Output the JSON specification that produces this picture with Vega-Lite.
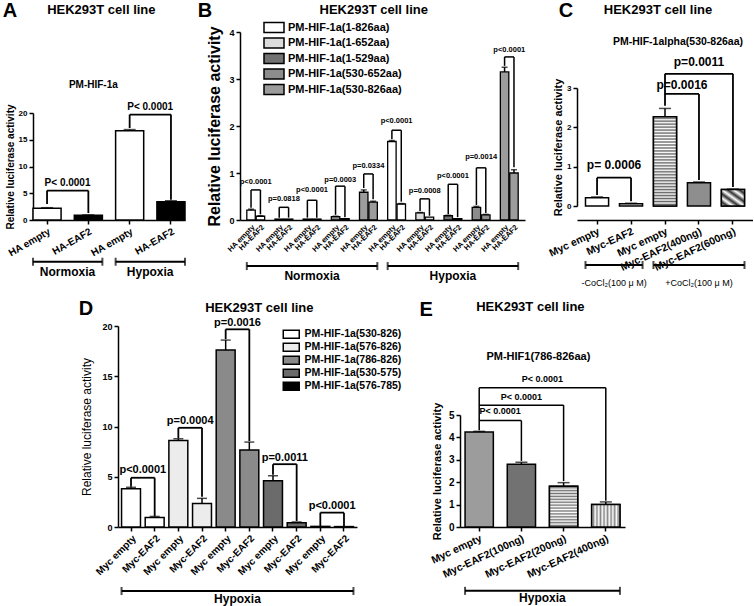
{
"$schema":"https://vega.github.io/schema/vega-lite/v6.json",
"padding":{"left":2,"top":0,"right":0,"bottom":0},
"config":{
 "view":{"stroke":null},
 "font":"Liberation Sans",
 "axis":{"grid":false,"domainColor":"black","domainWidth":1.5,"tickColor":"black","tickWidth":1.5,"tickSize":4,"labelColor":"black","titleColor":"black","labelFontWeight":"bold","titleFontWeight":"bold","labelFont":"Liberation Sans","titleFont":"Liberation Sans","labelOverlap":false},
 "text":{"font":"Liberation Sans","fontWeight":"bold","color":"black","fill":"black"},
 "rule":{"color":"black","strokeWidth":1.5},
 "tick":{"color":"black","thickness":1.5},
 "legend":{"labelFont":"Liberation Sans","labelFontWeight":"bold","labelColor":"black","symbolStrokeColor":"black","symbolStrokeWidth":1.5,"padding":0}
},
"datasets":{
 "aBars":[{"id":"HA empty|N","cond":"e","v":2.2,"hi":2.3},{"id":"HA-EAF2|N","cond":"f","v":0.9,"hi":0.95},{"id":"HA empty|H","cond":"e","v":16.7,"hi":16.9},{"id":"HA-EAF2|H","cond":"f","v":3.4,"hi":3.6}],
 "aSeg":[{"x1":"HA empty|N","x2":"HA-EAF2|N","y1":5.5,"y2":5.5},{"x1":"HA empty|N","x2":"HA empty|N","y1":3.0,"y2":5.5},{"x1":"HA-EAF2|N","x2":"HA-EAF2|N","y1":1.3,"y2":5.5},{"x1":"HA empty|H","x2":"HA-EAF2|H","y1":19.7,"y2":19.7},{"x1":"HA empty|H","x2":"HA empty|H","y1":17.2,"y2":19.7},{"x1":"HA-EAF2|H","x2":"HA-EAF2|H","y1":3.8,"y2":19.7}],
 "aP":[{"x":"HA empty|N","y":7.0,"t":"P< 0.0001"},{"x":"HA empty|H","y":21.2,"t":"P< 0.0001"}],
 "aG":[{"a":"HA empty|N","b":"HA-EAF2|N","y":-7.8,"ty":-9.7,"t":"Normoxia"},{"a":"HA empty|H","b":"HA-EAF2|H","y":-7.8,"ty":-9.7,"t":"Hypoxia"}],
 "bBars":[{"id":"1e","s":"PM-HIF-1a(1-826aa)","v":0.21,"hi":0.23},{"id":"1f","s":"PM-HIF-1a(1-826aa)","v":0.08,"hi":0.09},{"id":"2e","s":"PM-HIF-1a(1-652aa)","v":0.02,"hi":0.02},{"id":"2f","s":"PM-HIF-1a(1-652aa)","v":0.02,"hi":0.02},{"id":"3e","s":"PM-HIF-1a(1-529aa)","v":0.02,"hi":0.02},{"id":"3f","s":"PM-HIF-1a(1-529aa)","v":0.02,"hi":0.02},{"id":"4e","s":"PM-HIF-1a(530-652aa)","v":0.07,"hi":0.08},{"id":"4f","s":"PM-HIF-1a(530-652aa)","v":0.03,"hi":0.03},{"id":"5e","s":"PM-HIF-1a(530-826aa)","v":0.59,"hi":0.64},{"id":"5f","s":"PM-HIF-1a(530-826aa)","v":0.38,"hi":0.40},{"id":"6e","s":"PM-HIF-1a(1-826aa)","v":1.67,"hi":1.69},{"id":"6f","s":"PM-HIF-1a(1-826aa)","v":0.34,"hi":0.35},{"id":"7e","s":"PM-HIF-1a(1-652aa)","v":0.15,"hi":0.16},{"id":"7f","s":"PM-HIF-1a(1-652aa)","v":0.06,"hi":0.06},{"id":"8e","s":"PM-HIF-1a(1-529aa)","v":0.09,"hi":0.10},{"id":"8f","s":"PM-HIF-1a(1-529aa)","v":0.03,"hi":0.03},{"id":"9e","s":"PM-HIF-1a(530-652aa)","v":0.27,"hi":0.29},{"id":"9f","s":"PM-HIF-1a(530-652aa)","v":0.11,"hi":0.12},{"id":"10e","s":"PM-HIF-1a(530-826aa)","v":3.15,"hi":3.25},{"id":"10f","s":"PM-HIF-1a(530-826aa)","v":1.0,"hi":1.07}],
 "bSeg":[
  {"x1":"1e","x2":"1f","y1":0.64,"y2":0.64},{"x1":"1e","x2":"1e","y1":0.26,"y2":0.64},{"x1":"1f","x2":"1f","y1":0.12,"y2":0.64},
  {"x1":"2e","x2":"2f","y1":0.27,"y2":0.27},{"x1":"2e","x2":"2e","y1":0.05,"y2":0.27},{"x1":"2f","x2":"2f","y1":0.05,"y2":0.27},
  {"x1":"3e","x2":"3f","y1":0.42,"y2":0.42},{"x1":"3e","x2":"3e","y1":0.05,"y2":0.42},{"x1":"3f","x2":"3f","y1":0.05,"y2":0.42},
  {"x1":"4e","x2":"4f","y1":0.72,"y2":0.72},{"x1":"4e","x2":"4e","y1":0.11,"y2":0.72},{"x1":"4f","x2":"4f","y1":0.06,"y2":0.72},
  {"x1":"5e","x2":"5f","y1":0.98,"y2":0.98},{"x1":"5e","x2":"5e","y1":0.68,"y2":0.98},{"x1":"5f","x2":"5f","y1":0.44,"y2":0.98},
  {"x1":"6e","x2":"6f","y1":1.91,"y2":1.91},{"x1":"6e","x2":"6e","y1":1.72,"y2":1.91},{"x1":"6f","x2":"6f","y1":0.39,"y2":1.91},
  {"x1":"7e","x2":"7f","y1":0.45,"y2":0.45},{"x1":"7e","x2":"7e","y1":0.19,"y2":0.45},{"x1":"7f","x2":"7f","y1":0.09,"y2":0.45},
  {"x1":"8e","x2":"8f","y1":0.76,"y2":0.76},{"x1":"8e","x2":"8e","y1":0.12,"y2":0.76},{"x1":"8f","x2":"8f","y1":0.06,"y2":0.76},
  {"x1":"9e","x2":"9f","y1":1.11,"y2":1.11},{"x1":"9e","x2":"9e","y1":0.32,"y2":1.11},{"x1":"9f","x2":"9f","y1":0.15,"y2":1.11},
  {"x1":"10e","x2":"10f","y1":3.47,"y2":3.47},{"x1":"10e","x2":"10e","y1":3.28,"y2":3.47},{"x1":"10f","x2":"10f","y1":1.12,"y2":3.47}],
 "bP":[{"x":"1e","y":0.81,"t":"p<0.0001"},{"x":"2e","y":0.45,"t":"p=0.0818"},{"x":"3e","y":0.63,"t":"p<0.0001"},{"x":"4e","y":0.86,"t":"p=0.0003"},{"x":"5e","y":1.15,"t":"p=0.0334"},{"x":"6e","y":2.1,"t":"p<0.0001"},{"x":"7e","y":0.61,"t":"p=0.0008"},{"x":"8e","y":0.93,"t":"p<0.0001"},{"x":"9e","y":1.35,"t":"p=0.0014"},{"x":"10e","y":3.62,"t":"p<0.0001"}],
 "bG":[{"a":"1e","b":"5f","y":-0.98,"tx":"3e","ty":-1.2,"t":"Normoxia"},{"a":"6e","b":"10f","y":-0.98,"tx":"8e","ty":-1.2,"t":"Hypoxia"}],
 "cBars":[{"id":"Myc empty|-","k":"c1","v":0.21,"hi":0.23},{"id":"Myc-EAF2|-","k":"c2","v":0.06,"hi":0.07},{"id":"Myc empty|+","k":"c3","v":2.27,"hi":2.48},{"id":"Myc-EAF2(400ng)|+","k":"c4","v":0.59,"hi":0.61},{"id":"Myc-EAF2(600ng)|+","k":"c5","v":0.42,"hi":0.43}],
 "cSeg":[{"x1":"Myc empty|-","x2":"Myc-EAF2|-","y1":0.72,"y2":0.72},{"x1":"Myc empty|-","x2":"Myc empty|-","y1":0.28,"y2":0.72},{"x1":"Myc-EAF2|-","x2":"Myc-EAF2|-","y1":0.12,"y2":0.72},
  {"x1":"Myc empty|+","x2":"Myc-EAF2(400ng)|+","y1":2.85,"y2":2.85},{"x1":"Myc-EAF2(400ng)|+","x2":"Myc-EAF2(400ng)|+","y1":0.66,"y2":2.85},
  {"x1":"Myc empty|+","x2":"Myc-EAF2(600ng)|+","y1":3.36,"y2":3.36},{"x1":"Myc empty|+","x2":"Myc empty|+","y1":2.55,"y2":3.36},{"x1":"Myc-EAF2(600ng)|+","x2":"Myc-EAF2(600ng)|+","y1":0.48,"y2":3.36}],
 "dBars":[{"id":"Myc empty|1","sd":"PM-HIF-1a(530-826)","v":3.8,"hi":3.95},{"id":"Myc-EAF2|1","sd":"PM-HIF-1a(530-826)","v":0.95,"hi":1.05},{"id":"Myc empty|2","sd":"PM-HIF-1a(576-826)","v":8.6,"hi":8.78},{"id":"Myc-EAF2|2","sd":"PM-HIF-1a(576-826)","v":2.35,"hi":2.85},{"id":"Myc empty|3","sd":"PM-HIF-1a(786-826)","v":17.6,"hi":18.6},{"id":"Myc-EAF2|3","sd":"PM-HIF-1a(786-826)","v":7.65,"hi":8.45},{"id":"Myc empty|4","sd":"PM-HIF-1a(530-575)","v":4.6,"hi":5.1},{"id":"Myc-EAF2|4","sd":"PM-HIF-1a(530-575)","v":0.42,"hi":0.5},{"id":"Myc empty|5","sd":"PM-HIF-1a(576-785)","v":0.06,"hi":0.06},{"id":"Myc-EAF2|5","sd":"PM-HIF-1a(576-785)","v":0.04,"hi":0.04}],
 "dSeg":[{"x1":"Myc empty|1","x2":"Myc-EAF2|1","y1":4.9,"y2":4.9},{"x1":"Myc empty|1","x2":"Myc empty|1","y1":4.0,"y2":4.9},{"x1":"Myc-EAF2|1","x2":"Myc-EAF2|1","y1":1.1,"y2":4.9},
  {"x1":"Myc empty|2","x2":"Myc-EAF2|2","y1":9.87,"y2":9.87},{"x1":"Myc empty|2","x2":"Myc empty|2","y1":8.85,"y2":9.87},{"x1":"Myc-EAF2|2","x2":"Myc-EAF2|2","y1":3.0,"y2":9.87},
  {"x1":"Myc empty|3","x2":"Myc-EAF2|3","y1":19.67,"y2":19.67},{"x1":"Myc empty|3","x2":"Myc empty|3","y1":18.7,"y2":19.67},{"x1":"Myc-EAF2|3","x2":"Myc-EAF2|3","y1":8.55,"y2":19.67},
  {"x1":"Myc empty|4","x2":"Myc-EAF2|4","y1":6.25,"y2":6.25},{"x1":"Myc empty|4","x2":"Myc empty|4","y1":5.2,"y2":6.25},{"x1":"Myc-EAF2|4","x2":"Myc-EAF2|4","y1":0.6,"y2":6.25},
  {"x1":"Myc empty|5","x2":"Myc-EAF2|5","y1":1.43,"y2":1.43},{"x1":"Myc empty|5","x2":"Myc empty|5","y1":0.1,"y2":1.43},{"x1":"Myc-EAF2|5","x2":"Myc-EAF2|5","y1":0.1,"y2":1.43}],
 "dP":[{"x":"Myc empty|1","y":5.7,"t":"p<0.0001"},{"x":"Myc empty|2","y":10.5,"t":"p=0.0004"},{"x":"Myc empty|3","y":20.3,"t":"p=0.0016"},{"x":"Myc empty|4","y":6.85,"t":"p=0.0011"},{"x":"Myc empty|5","y":2.1,"t":"p<0.0001"}],
 "eBars":[{"id":"Myc empty","ke":"e1","v":4.24,"hi":4.27},{"id":"Myc-EAF2(100ng)","ke":"e2","v":2.8,"hi":2.89},{"id":"Myc-EAF2(200ng)","ke":"e3","v":1.82,"hi":1.98},{"id":"Myc-EAF2(400ng)","ke":"e4","v":1.01,"hi":1.12}],
 "eSeg":[{"x1":"Myc empty","x2":"Myc-EAF2(100ng)","y1":4.75,"y2":4.75},{"x1":"Myc empty","x2":"Myc-EAF2(200ng)","y1":5.44,"y2":5.44},{"x1":"Myc empty","x2":"Myc-EAF2(400ng)","y1":6.22,"y2":6.22},{"x1":"Myc empty","x2":"Myc empty","y1":4.32,"y2":6.22},{"x1":"Myc-EAF2(100ng)","x2":"Myc-EAF2(100ng)","y1":2.95,"y2":4.75},{"x1":"Myc-EAF2(200ng)","x2":"Myc-EAF2(200ng)","y1":2.05,"y2":5.44},{"x1":"Myc-EAF2(400ng)","x2":"Myc-EAF2(400ng)","y1":1.17,"y2":6.22}]
},
"spacing":294,
"bounds":"flush",
"resolve":{"scale":{"fill":"independent"},"legend":{"fill":"independent"}},
"vconcat":[
{"hconcat":[
 {"width":155,"height":188,
  "layer":[
   {"data":{"name":"aBars"},"mark":{"type":"bar","stroke":"black","strokeWidth":1.5},
    "encoding":{
     "x":{"field":"id","type":"nominal","scale":{"domain":["HA empty|N","HA-EAF2|N","HA empty|H","HA-EAF2|H"],"range":[0,152],"paddingInner":0.32,"paddingOuter":0},"axis":{"title":null,"labelExpr":"split(datum.value,'|')[0]","labelAngle":-30,"labelFontSize":10}},
     "y":{"field":"v","type":"quantitative","scale":{"domain":[0,20],"range":[188,81]},"axis":{"title":"Relative luciferase activity","titleFontSize":10,"values":[0,5,10,15,20],"labelFontSize":8,"titlePadding":3}},
     "fill":{"field":"cond","type":"nominal","scale":{"domain":["e","f"],"range":["white","black"]},"legend":null}}},
   {"data":{"name":"aBars"},"transform":[{"filter":"datum.hi>datum.v"}],"mark":"rule","encoding":{"x":{"field":"id","type":"nominal"},"y":{"field":"v","type":"quantitative"},"y2":{"field":"hi"}}},
   {"data":{"name":"aBars"},"transform":[{"filter":"datum.hi>datum.v"}],"mark":{"type":"tick","size":12},"encoding":{"x":{"field":"id","type":"nominal"},"y":{"field":"hi","type":"quantitative"}}},
   {"data":{"name":"aSeg"},"mark":{"type":"rule","strokeWidth":1.8},"encoding":{"x":{"field":"x1","type":"nominal"},"x2":{"field":"x2"},"y":{"field":"y1","type":"quantitative"},"y2":{"field":"y2"}}},
   {"data":{"name":"aP"},"mark":{"type":"text","fontSize":10,"dx":20.5},"encoding":{"x":{"field":"x","type":"nominal"},"y":{"field":"y","type":"quantitative"},"text":{"field":"t"}}},
   {"data":{"name":"aG"},"mark":{"type":"rule","strokeWidth":2},"encoding":{"x":{"field":"a","type":"nominal","bandPosition":0},"x2":{"field":"b","bandPosition":1},"y":{"field":"y","type":"quantitative"}}},
   {"data":{"name":"aG"},"mark":{"type":"tick","orient":"vertical","size":8,"thickness":2},"encoding":{"x":{"field":"a","type":"nominal","bandPosition":0},"y":{"field":"y","type":"quantitative"}}},
   {"data":{"name":"aG"},"mark":{"type":"tick","orient":"vertical","size":8,"thickness":2},"encoding":{"x":{"field":"b","type":"nominal","bandPosition":1},"y":{"field":"y","type":"quantitative"}}},
   {"data":{"name":"aG"},"mark":{"type":"text","fontSize":12,"dx":20.5},"encoding":{"x":{"field":"a","type":"nominal"},"y":{"field":"ty","type":"quantitative"},"text":{"field":"t"}}},
   {"data":{"values":[{"x":"HA empty|N","y":39.07,"t":"A"}]},"mark":{"type":"text","fontSize":20,"dx":-37},"encoding":{"x":{"field":"x","type":"nominal"},"y":{"field":"y","type":"quantitative"},"text":{"field":"t"}}},
   {"data":{"values":[{"x":"HA-EAF2|N","y":39.25,"t":"HEK293T cell line"}]},"mark":{"type":"text","fontSize":13,"dx":13},"encoding":{"x":{"field":"x","type":"nominal"},"y":{"field":"y","type":"quantitative"},"text":{"field":"t"}}},
   {"data":{"values":[{"x":"HA-EAF2|N","y":25.2,"t":"PM-HIF-1a"}]},"mark":{"type":"text","fontSize":10,"dx":5},"encoding":{"x":{"field":"x","type":"nominal"},"y":{"field":"y","type":"quantitative"},"text":{"field":"t"}}}
  ]},
 {"width":285,"height":188,
  "layer":[
   {"data":{"name":"bBars"},"mark":{"type":"bar","stroke":"black","strokeWidth":1.3},
    "encoding":{
     "x":{"field":"id","type":"nominal","scale":{"domain":["1e","1f","1g","2e","2f","2g","3e","3f","3g","4e","4f","4g","5e","5f","5g","6e","6f","6g","7e","7f","7g","8e","8f","8g","9e","9f","9g","10e","10f"],"paddingInner":0.1,"paddingOuter":0.725},"axis":{"title":null,"ticks":false,"labelExpr":"indexof(datum.value,'e')>0?'HA empty':(indexof(datum.value,'f')>0?'HA-EAF2':'')","labelAngle":-45,"labelFontSize":7.5,"labelPadding":3}},
     "y":{"field":"v","type":"quantitative","scale":{"domain":[0,4]},"axis":{"title":"Relative luciferase activity","titleFontSize":16,"values":[0,1,2,3,4],"labelFontSize":9,"titlePadding":6}},
     "fill":{"field":"s","type":"nominal","scale":{"domain":["PM-HIF-1a(1-826aa)","PM-HIF-1a(1-652aa)","PM-HIF-1a(1-529aa)","PM-HIF-1a(530-652aa)","PM-HIF-1a(530-826aa)"],"range":["white","#dcdcdc","#727272","#8c8c8c","#9c9c9c"]},
      "legend":{"orient":"none","legendX":28,"legendY":-10.5,"title":null,"symbolType":"M-2,-1H2V1H-2Z","symbolSize":100,"symbolStrokeColor":"black","symbolStrokeWidth":1.5,"labelFontSize":11,"labelFontWeight":"bold","labelOffset":8,"rowPadding":-0.5,"padding":0}}}},
   {"data":{"name":"bBars"},"transform":[{"filter":"datum.hi>datum.v"}],"mark":"rule","encoding":{"x":{"field":"id","type":"nominal"},"y":{"field":"v","type":"quantitative"},"y2":{"field":"hi"}}},
   {"data":{"name":"bBars"},"transform":[{"filter":"datum.hi>datum.v"}],"mark":{"type":"tick","size":6},"encoding":{"x":{"field":"id","type":"nominal"},"y":{"field":"hi","type":"quantitative"}}},
   {"data":{"name":"bSeg"},"mark":{"type":"rule","strokeWidth":1.5},"encoding":{"x":{"field":"x1","type":"nominal"},"x2":{"field":"x2"},"y":{"field":"y1","type":"quantitative"},"y2":{"field":"y2"}}},
   {"data":{"name":"bP"},"mark":{"type":"text","fontSize":7.5,"dx":4.7,"fill":"black"},"encoding":{"x":{"field":"x","type":"nominal"},"y":{"field":"y","type":"quantitative"},"text":{"field":"t"}}},
   {"data":{"name":"bG"},"mark":{"type":"rule","strokeWidth":2},"encoding":{"x":{"field":"a","type":"nominal","bandPosition":0},"x2":{"field":"b","bandPosition":1},"y":{"field":"y","type":"quantitative"}}},
   {"data":{"name":"bG"},"mark":{"type":"tick","orient":"vertical","size":8,"thickness":2},"encoding":{"x":{"field":"a","type":"nominal","bandPosition":0},"y":{"field":"y","type":"quantitative"}}},
   {"data":{"name":"bG"},"mark":{"type":"tick","orient":"vertical","size":8,"thickness":2},"encoding":{"x":{"field":"b","type":"nominal","bandPosition":1},"y":{"field":"y","type":"quantitative"}}},
   {"data":{"name":"bG"},"mark":{"type":"text","fontSize":12,"dx":4.7},"encoding":{"x":{"field":"tx","type":"nominal"},"y":{"field":"ty","type":"quantitative"},"text":{"field":"t"}}},
   {"data":{"values":[{"x":"1e","y":4.447,"t":"B"}]},"mark":{"type":"text","fontSize":20,"dx":-46},"encoding":{"x":{"field":"x","type":"nominal"},"y":{"field":"y","type":"quantitative"},"text":{"field":"t"}}},
   {"data":{"values":[{"x":"5e","y":4.468,"t":"HEK293T cell line"}]},"mark":{"type":"text","fontSize":13,"dx":10},"encoding":{"x":{"field":"x","type":"nominal"},"y":{"field":"y","type":"quantitative"},"text":{"field":"t"}}}
  ]},
 {"width":176,"height":188,
  "layer":[
   {"data":{"name":"cBars"},"mark":{"type":"bar","stroke":"black","strokeWidth":1.5},
    "encoding":{
     "x":{"field":"id","type":"nominal","scale":{"domain":["Myc empty|-","Myc-EAF2|-","Myc empty|+","Myc-EAF2(400ng)|+","Myc-EAF2(600ng)|+"],"paddingInner":0.32,"paddingOuter":0.25},"axis":{"title":null,"labelExpr":"split(datum.value,'|')[0]","labelAngle":-25,"labelFontSize":10.5}},
     "y":{"field":"v","type":"quantitative","scale":{"domain":[0,3],"range":[174,56]},"axis":{"title":"Relative luciferase activity","titleFontSize":11,"values":[0,1,2,3],"format":"d","labelFontSize":8,"titlePadding":3}},
     "fill":{"field":"k","type":"nominal","scale":{"domain":["c1","c2","c3","c4","c5"],"range":["white","#e4e4e4","#bdbdbd","#8e8e8e","#a6a6a6"]},"legend":null}}},
   {"data":{"name":"cBars"},"transform":[{"filter":"datum.k=='c3'"}],"mark":{"type":"bar","stroke":"black","strokeWidth":1.5,"fill":{"gradient":"linear","x1":0,"y1":0,"x2":0,"y2":1,"stops":[{"offset":0,"color":"white"},{"offset":0.0167,"color":"#666"},{"offset":0.0333,"color":"white"},{"offset":0.05,"color":"#666"},{"offset":0.0667,"color":"white"},{"offset":0.0833,"color":"#666"},{"offset":0.1,"color":"white"},{"offset":0.1167,"color":"#666"},{"offset":0.1333,"color":"white"},{"offset":0.15,"color":"#666"},{"offset":0.1667,"color":"white"},{"offset":0.1833,"color":"#666"},{"offset":0.2,"color":"white"},{"offset":0.2167,"color":"#666"},{"offset":0.2333,"color":"white"},{"offset":0.25,"color":"#666"},{"offset":0.2667,"color":"white"},{"offset":0.2833,"color":"#666"},{"offset":0.3,"color":"white"},{"offset":0.3167,"color":"#666"},{"offset":0.3333,"color":"white"},{"offset":0.35,"color":"#666"},{"offset":0.3667,"color":"white"},{"offset":0.3833,"color":"#666"},{"offset":0.4,"color":"white"},{"offset":0.4167,"color":"#666"},{"offset":0.4333,"color":"white"},{"offset":0.45,"color":"#666"},{"offset":0.4667,"color":"white"},{"offset":0.4833,"color":"#666"},{"offset":0.5,"color":"white"},{"offset":0.5167,"color":"#666"},{"offset":0.5333,"color":"white"},{"offset":0.55,"color":"#666"},{"offset":0.5667,"color":"white"},{"offset":0.5833,"color":"#666"},{"offset":0.6,"color":"white"},{"offset":0.6167,"color":"#666"},{"offset":0.6333,"color":"white"},{"offset":0.65,"color":"#666"},{"offset":0.6667,"color":"white"},{"offset":0.6833,"color":"#666"},{"offset":0.7,"color":"white"},{"offset":0.7167,"color":"#666"},{"offset":0.7333,"color":"white"},{"offset":0.75,"color":"#666"},{"offset":0.7667,"color":"white"},{"offset":0.7833,"color":"#666"},{"offset":0.8,"color":"white"},{"offset":0.8167,"color":"#666"},{"offset":0.8333,"color":"white"},{"offset":0.85,"color":"#666"},{"offset":0.8667,"color":"white"},{"offset":0.8833,"color":"#666"},{"offset":0.9,"color":"white"},{"offset":0.9167,"color":"#666"},{"offset":0.9333,"color":"white"},{"offset":0.95,"color":"#666"},{"offset":0.9667,"color":"white"},{"offset":0.9833,"color":"#666"},{"offset":1,"color":"white"}]}},
    "encoding":{"x":{"field":"id","type":"nominal"},"y":{"field":"v","type":"quantitative"}}},
   {"data":{"name":"cBars"},"transform":[{"filter":"datum.k=='c5'"}],"mark":{"type":"bar","stroke":"black","strokeWidth":1.5,"fill":{"gradient":"linear","x1":0,"y1":1,"x2":1,"y2":0,"stops":[{"offset":0,"color":"white"},{"offset":0.125,"color":"#333"},{"offset":0.25,"color":"white"},{"offset":0.375,"color":"#333"},{"offset":0.5,"color":"white"},{"offset":0.625,"color":"#333"},{"offset":0.75,"color":"white"},{"offset":0.875,"color":"#333"},{"offset":1,"color":"white"}]}},
    "encoding":{"x":{"field":"id","type":"nominal"},"y":{"field":"v","type":"quantitative"}}},
   {"data":{"name":"cBars"},"transform":[{"filter":"datum.hi>datum.v"}],"mark":"rule","encoding":{"x":{"field":"id","type":"nominal"},"y":{"field":"v","type":"quantitative"},"y2":{"field":"hi"}}},
   {"data":{"name":"cBars"},"transform":[{"filter":"datum.hi>datum.v"}],"mark":{"type":"tick","size":12},"encoding":{"x":{"field":"id","type":"nominal"},"y":{"field":"hi","type":"quantitative"}}},
   {"data":{"name":"cSeg"},"mark":{"type":"rule","strokeWidth":1.8},"encoding":{"x":{"field":"x1","type":"nominal"},"x2":{"field":"x2"},"y":{"field":"y1","type":"quantitative"},"y2":{"field":"y2"}}},
   {"data":{"values":[{"x":"Myc empty|-","y":1.03,"t":"p= 0.0006"},{"x":"Myc empty|+","y":3.08,"t":"p=0.0016"}]},"mark":{"type":"text","fontSize":12,"dx":17},"encoding":{"x":{"field":"x","type":"nominal"},"y":{"field":"y","type":"quantitative"},"text":{"field":"t"}}},
   {"data":{"values":[{"x":"Myc-EAF2(400ng)|+","y":3.65,"t":"p=0.0011"}]},"mark":{"type":"text","fontSize":12},"encoding":{"x":{"field":"x","type":"nominal"},"y":{"field":"y","type":"quantitative"},"text":{"field":"t"}}},
   {"data":{"values":[{"a":"Myc empty|-","b":"Myc-EAF2|-","y":-1.5},{"a":"Myc empty|+","b":"Myc-EAF2(600ng)|+","y":-1.5}]},"mark":{"type":"rule","strokeWidth":2},"encoding":{"x":{"field":"a","type":"nominal","bandPosition":0},"x2":{"field":"b","bandPosition":1},"y":{"field":"y","type":"quantitative"}}},
   {"data":{"values":[{"a":"Myc empty|-","y":-1.5},{"a":"Myc empty|+","y":-1.5}]},"mark":{"type":"tick","orient":"vertical","size":8,"thickness":2},"encoding":{"x":{"field":"a","type":"nominal","bandPosition":0},"y":{"field":"y","type":"quantitative"}}},
   {"data":{"values":[{"b":"Myc-EAF2|-","y":-1.5},{"b":"Myc-EAF2(600ng)|+","y":-1.5}]},"mark":{"type":"tick","orient":"vertical","size":8,"thickness":2},"encoding":{"x":{"field":"b","type":"nominal","bandPosition":1},"y":{"field":"y","type":"quantitative"}}},
   {"data":{"values":[{"x":"Myc empty|-","y":-1.95,"t":"-CoCl₂(100 μ M)"}]},"mark":{"type":"text","fontSize":9,"fontWeight":"normal","dx":17},"encoding":{"x":{"field":"x","type":"nominal"},"y":{"field":"y","type":"quantitative"},"text":{"field":"t"}}},
   {"data":{"values":[{"x":"Myc-EAF2(400ng)|+","y":-1.95,"t":"+CoCl₂(100 μ M)"}]},"mark":{"type":"text","fontSize":9,"fontWeight":"normal"},"encoding":{"x":{"field":"x","type":"nominal"},"y":{"field":"y","type":"quantitative"},"text":{"field":"t"}}},
   {"data":{"values":[{"x":"Myc empty|-","y":4.962,"t":"C"}]},"mark":{"type":"text","fontSize":20,"dx":-31},"encoding":{"x":{"field":"x","type":"nominal"},"y":{"field":"y","type":"quantitative"},"text":{"field":"t"}}},
   {"data":{"values":[{"x":"Myc empty|+","y":4.987,"t":"HEK293T cell line"}]},"mark":{"type":"text","fontSize":13,"dx":-7},"encoding":{"x":{"field":"x","type":"nominal"},"y":{"field":"y","type":"quantitative"},"text":{"field":"t"}}},
   {"data":{"values":[{"x":"Myc-EAF2(400ng)|+","y":4.17,"t":"PM-HIF-1alpha(530-826aa)"}]},"mark":{"type":"text","fontSize":10.5,"dx":-21},"encoding":{"x":{"field":"x","type":"nominal"},"y":{"field":"y","type":"quantitative"},"text":{"field":"t"}}}
  ]}
 ],
 "spacing":52,"bounds":"flush",
 "resolve":{"scale":{"fill":"independent"},"legend":{"fill":"independent"}}},
{"hconcat":[
 {"width":324,"height":201,
  "layer":[
   {"data":{"name":"dBars"},"mark":{"type":"bar","stroke":"black","strokeWidth":1.5},
    "encoding":{
     "x":{"field":"id","type":"nominal","scale":{"domain":["Myc empty|1","Myc-EAF2|1","Myc empty|2","Myc-EAF2|2","Myc empty|3","Myc-EAF2|3","Myc empty|4","Myc-EAF2|4","Myc empty|5","Myc-EAF2|5"],"range":[85,324],"paddingInner":0.2,"paddingOuter":0.15},"axis":{"title":null,"labelExpr":"split(datum.value,'|')[0]","labelAngle":-45,"labelFontSize":10}},
     "y":{"field":"v","type":"quantitative","scale":{"domain":[0,20]},"axis":{"title":"Relative luciferase activity","titleFontSize":12,"titleFontWeight":"normal","values":[0,5,10,15,20],"labelFontSize":9,"titlePadding":8,"offset":-85}},
     "fill":{"field":"sd","type":"nominal","scale":{"domain":["PM-HIF-1a(530-826)","PM-HIF-1a(576-826)","PM-HIF-1a(786-826)","PM-HIF-1a(530-575)","PM-HIF-1a(576-785)"],"range":["white","#ececec","#8a8a8a","#6b6b6b","black"]},
      "legend":{"orient":"none","legendX":253,"legendY":3,"title":null,"symbolType":"M-2,-1H2V1H-2Z","symbolSize":64,"symbolStrokeColor":"black","symbolStrokeWidth":1.5,"labelFontSize":10.5,"labelFontWeight":"bold","labelOffset":8,"rowPadding":-3.5,"padding":0}}}},
   {"data":{"name":"dBars"},"transform":[{"filter":"datum.hi>datum.v"}],"mark":"rule","encoding":{"x":{"field":"id","type":"nominal"},"y":{"field":"v","type":"quantitative"},"y2":{"field":"hi"}}},
   {"data":{"name":"dBars"},"transform":[{"filter":"datum.hi>datum.v"}],"mark":{"type":"tick","size":10},"encoding":{"x":{"field":"id","type":"nominal"},"y":{"field":"hi","type":"quantitative"}}},
   {"data":{"name":"dSeg"},"mark":{"type":"rule","strokeWidth":1.8},"encoding":{"x":{"field":"x1","type":"nominal"},"x2":{"field":"x2"},"y":{"field":"y1","type":"quantitative"},"y2":{"field":"y2"}}},
   {"data":{"name":"dP"},"mark":{"type":"text","fontSize":11,"dx":11.8},"encoding":{"x":{"field":"x","type":"nominal"},"y":{"field":"y","type":"quantitative"},"text":{"field":"t"}}},
   {"data":{"values":[{"a":"Myc empty|1","b":"Myc-EAF2|5","y":-6.37}]},"mark":{"type":"rule","strokeWidth":2},"encoding":{"x":{"field":"a","type":"nominal","bandPosition":0},"x2":{"field":"b","bandPosition":1},"y":{"field":"y","type":"quantitative"}}},
   {"data":{"values":[{"a":"Myc empty|1","y":-6.37}]},"mark":{"type":"tick","orient":"vertical","size":8,"thickness":2},"encoding":{"x":{"field":"a","type":"nominal","bandPosition":0},"y":{"field":"y","type":"quantitative"}}},
   {"data":{"values":[{"b":"Myc-EAF2|5","y":-6.37}]},"mark":{"type":"tick","orient":"vertical","size":8,"thickness":2},"encoding":{"x":{"field":"b","type":"nominal","bandPosition":1},"y":{"field":"y","type":"quantitative"}}},
   {"data":{"values":[{"x":"Myc empty|3","y":-7.2,"t":"Hypoxia"}]},"mark":{"type":"text","fontSize":12,"dx":11.8},"encoding":{"x":{"field":"x","type":"nominal"},"y":{"field":"y","type":"quantitative"},"text":{"field":"t"}}},
   {"data":{"values":[{"x":"Myc empty|1","y":21.7,"t":"D"}]},"mark":{"type":"text","fontSize":20,"dx":-45},"encoding":{"x":{"field":"x","type":"nominal"},"y":{"field":"y","type":"quantitative"},"text":{"field":"t"}}},
   {"data":{"values":[{"x":"Myc-EAF2|3","y":21.8,"t":"HEK293T cell line"}]},"mark":{"type":"text","fontSize":13,"dx":10},"encoding":{"x":{"field":"x","type":"nominal"},"y":{"field":"y","type":"quantitative"},"text":{"field":"t"}}}
  ]},
 {"width":165,"height":201,
  "layer":[
   {"data":{"name":"eBars"},"mark":{"type":"bar","stroke":"black","strokeWidth":1.5},
    "encoding":{
     "x":{"field":"id","type":"nominal","scale":{"domain":["Myc empty","Myc-EAF2(100ng)","Myc-EAF2(200ng)","Myc-EAF2(400ng)"],"paddingInner":0.33,"paddingOuter":0.12},"axis":{"title":null,"labelAngle":-25,"labelFontSize":10.5}},
     "y":{"field":"v","type":"quantitative","scale":{"domain":[0,5],"range":[201,89]},"axis":{"title":"Relative luciferase activity","titleFontSize":11,"values":[0,1,2,3,4,5],"labelFontSize":10,"titlePadding":6}},
     "fill":{"field":"ke","type":"nominal","scale":{"domain":["e1","e2","e3","e4"],"range":["#9c9c9c","#727272","#c8c8c8","#d4d4d4"]},"legend":null}}},
   {"data":{"name":"eBars"},"transform":[{"filter":"datum.ke=='e3'"}],"mark":{"type":"bar","stroke":"black","strokeWidth":1.5,"fill":{"gradient":"linear","x1":0,"y1":0,"x2":0,"y2":1,"stops":[{"offset":0,"color":"white"},{"offset":0.0357,"color":"#777"},{"offset":0.0714,"color":"white"},{"offset":0.1071,"color":"#777"},{"offset":0.1429,"color":"white"},{"offset":0.1786,"color":"#777"},{"offset":0.2143,"color":"white"},{"offset":0.25,"color":"#777"},{"offset":0.2857,"color":"white"},{"offset":0.3214,"color":"#777"},{"offset":0.3571,"color":"white"},{"offset":0.3929,"color":"#777"},{"offset":0.4286,"color":"white"},{"offset":0.4643,"color":"#777"},{"offset":0.5,"color":"white"},{"offset":0.5357,"color":"#777"},{"offset":0.5714,"color":"white"},{"offset":0.6071,"color":"#777"},{"offset":0.6429,"color":"white"},{"offset":0.6786,"color":"#777"},{"offset":0.7143,"color":"white"},{"offset":0.75,"color":"#777"},{"offset":0.7857,"color":"white"},{"offset":0.8214,"color":"#777"},{"offset":0.8571,"color":"white"},{"offset":0.8929,"color":"#777"},{"offset":0.9286,"color":"white"},{"offset":0.9643,"color":"#777"},{"offset":1,"color":"white"}]}},
    "encoding":{"x":{"field":"id","type":"nominal"},"y":{"field":"v","type":"quantitative"}}},
   {"data":{"name":"eBars"},"transform":[{"filter":"datum.ke=='e4'"}],"mark":{"type":"bar","stroke":"black","strokeWidth":1.5,"fill":{"gradient":"linear","x1":0,"y1":0,"x2":1,"y2":0,"stops":[{"offset":0,"color":"white"},{"offset":0.0625,"color":"#888"},{"offset":0.125,"color":"white"},{"offset":0.1875,"color":"#888"},{"offset":0.25,"color":"white"},{"offset":0.3125,"color":"#888"},{"offset":0.375,"color":"white"},{"offset":0.4375,"color":"#888"},{"offset":0.5,"color":"white"},{"offset":0.5625,"color":"#888"},{"offset":0.625,"color":"white"},{"offset":0.6875,"color":"#888"},{"offset":0.75,"color":"white"},{"offset":0.8125,"color":"#888"},{"offset":0.875,"color":"white"},{"offset":0.9375,"color":"#888"},{"offset":1,"color":"white"}]}},
    "encoding":{"x":{"field":"id","type":"nominal"},"y":{"field":"v","type":"quantitative"}}},
   {"data":{"name":"eBars"},"transform":[{"filter":"datum.hi>datum.v"}],"mark":"rule","encoding":{"x":{"field":"id","type":"nominal"},"y":{"field":"v","type":"quantitative"},"y2":{"field":"hi"}}},
   {"data":{"name":"eBars"},"transform":[{"filter":"datum.hi>datum.v"}],"mark":{"type":"tick","size":12},"encoding":{"x":{"field":"id","type":"nominal"},"y":{"field":"hi","type":"quantitative"}}},
   {"data":{"name":"eSeg"},"mark":{"type":"rule","strokeWidth":1.5},"encoding":{"x":{"field":"x1","type":"nominal"},"x2":{"field":"x2"},"y":{"field":"y1","type":"quantitative"},"y2":{"field":"y2"}}},
   {"data":{"values":[{"x":"Myc empty","y":5.19,"t":"P< 0.0001"},{"x":"Myc-EAF2(100ng)","y":6.59,"t":"P< 0.0001"}]},"mark":{"type":"text","fontSize":9,"dx":21},"encoding":{"x":{"field":"x","type":"nominal"},"y":{"field":"y","type":"quantitative"},"text":{"field":"t"}}},
   {"data":{"values":[{"x":"Myc-EAF2(100ng)","y":5.81,"t":"P< 0.0001"}]},"mark":{"type":"text","fontSize":9},"encoding":{"x":{"field":"x","type":"nominal"},"y":{"field":"y","type":"quantitative"},"text":{"field":"t"}}},
   {"data":{"values":[{"a":"Myc empty","b":"Myc-EAF2(400ng)","y":-2.85}]},"mark":{"type":"rule","strokeWidth":2},"encoding":{"x":{"field":"a","type":"nominal","bandPosition":0},"x2":{"field":"b","bandPosition":1},"y":{"field":"y","type":"quantitative"}}},
   {"data":{"values":[{"a":"Myc empty","y":-2.85}]},"mark":{"type":"tick","orient":"vertical","size":8,"thickness":2},"encoding":{"x":{"field":"a","type":"nominal","bandPosition":0},"y":{"field":"y","type":"quantitative"}}},
   {"data":{"values":[{"b":"Myc-EAF2(400ng)","y":-2.85}]},"mark":{"type":"tick","orient":"vertical","size":8,"thickness":2},"encoding":{"x":{"field":"b","type":"nominal","bandPosition":1},"y":{"field":"y","type":"quantitative"}}},
   {"data":{"values":[{"x":"Myc-EAF2(100ng)","y":-3.17,"t":"Hypoxia"}]},"mark":{"type":"text","fontSize":12,"dx":21},"encoding":{"x":{"field":"x","type":"nominal"},"y":{"field":"y","type":"quantitative"},"text":{"field":"t"}}},
   {"data":{"values":[{"x":"Myc empty","y":9.69,"t":"E"}]},"mark":{"type":"text","fontSize":20,"dx":-53},"encoding":{"x":{"field":"x","type":"nominal"},"y":{"field":"y","type":"quantitative"},"text":{"field":"t"}}},
   {"data":{"values":[{"x":"Myc-EAF2(100ng)","y":9.82,"t":"HEK293T cell line"}]},"mark":{"type":"text","fontSize":13,"dx":9},"encoding":{"x":{"field":"x","type":"nominal"},"y":{"field":"y","type":"quantitative"},"text":{"field":"t"}}},
   {"data":{"values":[{"x":"Myc-EAF2(100ng)","y":7.6,"t":"PM-HIF1(786-826aa)"}]},"mark":{"type":"text","fontSize":11,"dx":17},"encoding":{"x":{"field":"x","type":"nominal"},"y":{"field":"y","type":"quantitative"},"text":{"field":"t"}}}
  ]}
 ],
 "spacing":103,"bounds":"flush",
 "resolve":{"scale":{"fill":"independent"},"legend":{"fill":"independent"}}}
]
}
